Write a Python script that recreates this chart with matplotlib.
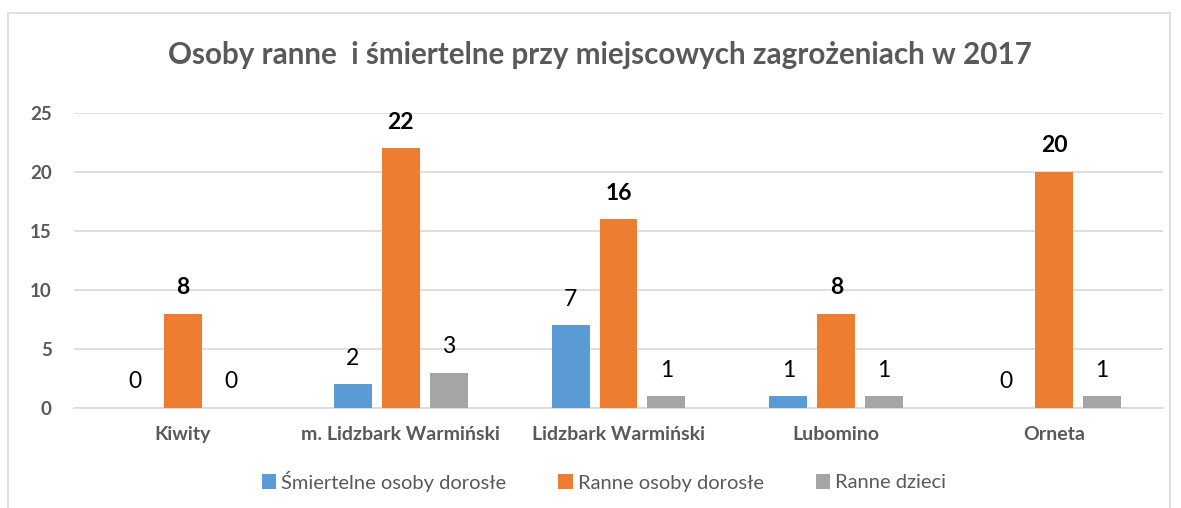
import matplotlib
matplotlib.use("Agg")
import matplotlib.pyplot as plt
import numpy as np
from matplotlib.patches import Rectangle

plt.rcParams['font.family'] = ['Lato', 'DejaVu Sans']

categories = ["Kiwity", "m. Lidzbark Warmiński", "Lidzbark Warmiński", "Lubomino", "Orneta"]
series_names = ["Śmiertelne osoby dorosłe", "Ranne osoby dorosłe", "Ranne dzieci"]
smiertelne = [0, 2, 7, 1, 0]
ranne_dorosle = [8, 22, 16, 8, 20]
ranne_dzieci = [0, 3, 1, 1, 1]
yticks = [0, 5, 10, 15, 20, 25]
title = "Osoby ranne  i śmiertelne przy miejscowych zagrożeniach w 2017"

colors = ["#5B9BD5", "#ED7D31", "#A5A5A5"]
text_gray = "#595959"

W, H = 1181, 508
fig = plt.figure(figsize=(W / 100, H / 100), dpi=100)
fig.patch.set_facecolor("white")

# chart border
fig.add_artist(Rectangle((8 / W, -0.05), (1170 - 8) / W, (H - 13) / H + 0.05,
                         transform=fig.transFigure, fill=False,
                         edgecolor="#D9D9D9", linewidth=1.2))

ax = fig.add_axes([74 / W, (H - 408) / H, (1163 - 74) / W, (408 - 113) / H])
x = np.arange(len(categories))
bw = 0.174
pitch = 0.22
all_series = [smiertelne, ranne_dorosle, ranne_dzieci]
for i, (vals, c) in enumerate(zip(all_series, colors)):
    pos = x + (i - 1) * pitch
    ax.bar(pos, vals, width=bw, color=c, label=series_names[i], zorder=3)
    for p, v in zip(pos, vals):
        ax.annotate(str(v), (p, v), xytext=(0, 26), textcoords="offset pixels",
                    ha="center", va="center", fontsize=16.5,
                    fontweight="bold" if i == 1 else "normal", color="black")

ax.set_xlim(-0.5, len(categories) - 0.5)
ax.set_ylim(0, 25)
ax.set_yticks(yticks)
ax.yaxis.grid(True, color="#D9D9D9", linewidth=1.2, zorder=0)
ax.set_axisbelow(True)
for s in ["top", "right", "left"]:
    ax.spines[s].set_visible(False)
ax.spines["bottom"].set_color("#D9D9D9")
ax.spines["bottom"].set_linewidth(1.2)
ax.tick_params(axis="both", length=0)
ax.tick_params(axis="y", pad=16)
ax.tick_params(axis="x", pad=13)
ax.set_xticks(x)
ax.set_xticklabels(categories, fontsize=14, fontweight="bold", color=text_gray)
for lab in ax.get_yticklabels():
    lab.set_fontsize(13.5)
    lab.set_fontweight("bold")
    lab.set_color(text_gray)

fig.text(600 / W, (H - 55) / H, title, ha="center", va="center",
         fontsize=21.3, fontweight="bold", color=text_gray)

leg = fig.legend(loc="center", bbox_to_anchor=(604 / W, (H - 481) / H), ncol=3,
                 frameon=False, fontsize=14.5, handlelength=0.7, handleheight=0.7,
                 handletextpad=0.25, columnspacing=2.6, labelcolor=text_gray)

fig.savefig("out.png", dpi=100)
